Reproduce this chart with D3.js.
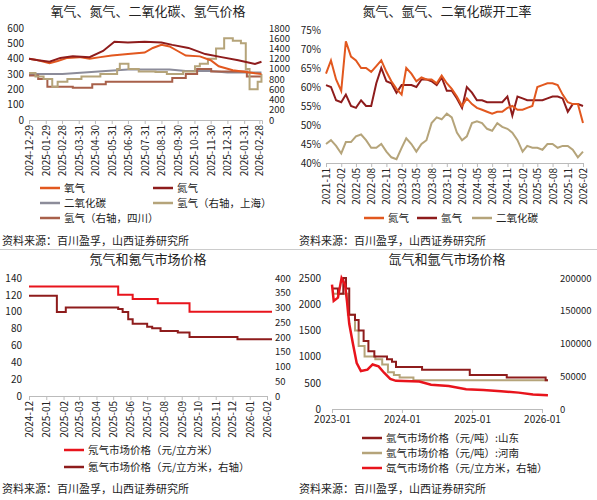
<!DOCTYPE html>
<html>
<head>
<meta charset="utf-8">
<script src="https://cdn.jsdelivr.net/npm/d3@7"></script>
<style>
body{margin:0;background:#fff;}
svg text{font-family:"Noto Sans CJK SC","DejaVu Sans",sans-serif;fill:#222;}
</style>
</head>
<body>
<div id="chart"></div>
<script>
// ---- panel 1 : 氧气、氮气、二氧化碳、氢气价格 ----
const p1Ticks = ["2024-12-29","2025-01-29","2025-02-28","2025-03-31","2025-04-30","2025-05-31","2025-06-30","2025-07-31","2025-08-31","2025-09-30","2025-10-31","2025-11-30","2025-12-31","2026-01-31","2026-02-28"];
const oxygen = [["2024-12-29",400],["2025-01-15",390],["2025-02-05",370],["2025-02-20",385],["2025-03-10",405],["2025-04-01",410],["2025-04-20",400],["2025-05-10",410],["2025-05-31",420],["2025-06-30",430],["2025-07-31",440],["2025-08-15",470],["2025-08-31",490],["2025-09-15",480],["2025-09-30",450],["2025-10-15",420],["2025-11-10",415],["2025-11-30",390],["2025-12-15",350],["2026-01-10",325],["2026-01-31",315],["2026-02-20",305],["2026-03-04",300]];
const nitrogen = [["2024-12-29",400],["2025-01-15",390],["2025-02-05",380],["2025-02-25",405],["2025-03-20",415],["2025-04-20",410],["2025-05-15",450],["2025-06-05",510],["2025-06-30",505],["2025-07-31",510],["2025-08-31",505],["2025-09-20",490],["2025-10-20",470],["2025-11-20",430],["2025-12-20",410],["2026-01-20",390],["2026-02-20",365],["2026-03-04",380]];
const co2 = [["2024-12-29",300],["2025-03-01",300],["2025-04-10",310],["2025-05-20",320],["2025-06-30",330],["2025-09-15",330],["2025-10-15",320],["2025-11-30",320],["2025-12-31",310],["2026-03-04",310]];
const h2Shanghai = [["2024-12-29",920],["2025-01-10",850],["2025-01-25",800],["2025-02-10",650],["2025-02-20",750],["2025-03-10",800],["2025-04-05",850],["2025-05-10",900],["2025-06-10",1000],["2025-06-15",1100],["2025-07-01",1000],["2025-07-20",950],["2025-08-20",940],["2025-09-10",900],["2025-10-10",950],["2025-11-01",1050],["2025-11-10",1100],["2025-11-25",1200],["2025-12-10",1400],["2025-12-25",1600],["2026-01-10",1550],["2026-01-25",1500],["2026-02-03",1000],["2026-02-10",600],["2026-02-25",750],["2026-03-04",900]];
const h2Sichuan = [["2024-12-29",870],["2025-01-15",800],["2025-02-01",650],["2025-03-20",630],["2025-04-25",700],["2025-05-20",750],["2025-09-20",820],["2025-10-15",900],["2025-11-05",1000],["2025-12-01",950],["2026-02-05",850],["2026-03-04",850]];
const p1Left = [0,100,200,300,400,500,600];
const p1Right = [0,200,400,600,800,1000,1200,1400,1600,1800];

// ---- panel 2 : 开工率 (monthly 2021-11 .. 2026-02) ----
const p2Ticks = ["2021-11","2022-02","2022-05","2022-08","2022-11","2023-02","2023-05","2023-08","2023-11","2024-02","2024-05","2024-08","2024-11","2025-02","2025-05","2025-08","2025-11","2026-02"];
const rateN2 = [63.5,67, 62,59,72,68,67,65,65,64,65.5,67,64,61.5, 59.5,58,65,63.5,61.5,62.5,62,62,61,63,61,59.5, 57.5,55,57,55.5,54.5,54,53.5,53,53.5,53.5,54.5,55, 54,54,54.5,55,60,60.5,61,61,60.5,58,56,55.5, 55.5,50.5];
const rateAr = [60.5,60, 56.5,56,58,55,54.5,56.5,55,55,61,65,61.5,61, 58.5,60.5,60.5,60.5,60,62,62,61.5,60.5,62.5,59,59, 57,54.5,60,58.5,56.5,56.5,56,56,56,56,57.5,52.5, 57.5,57,56.5,56.5,56.5,56.5,57,57.5,57.5,57,53.5,55.5, 55.5,55];
const rateCO2 = [45,46, 44.5,42.5,45.5,45.5,47,47.5,46,44,44,45,43,41.5, 41,44,46.5,45,43,45,46,50.5,52,51.5,53,52, 48,46,47,50.5,51,50.5,49,48.5,50.5,49.5,49,48, 46,43,44.5,44,44,43.5,45,45,44,44.5,44.5,43.5, 41.5,43];
const p2Left = [40,45,50,55,60,65,70,75];

// ---- panel 3 : 氖气和氪气 ----
const p3Ticks = ["2024-12","2025-01","2025-02","2025-03","2025-04","2025-05","2025-06","2025-07","2025-08","2025-09","2025-10","2025-11","2025-12","2026-01","2026-02"];
const neon = [["2024-12-01",130],["2025-05-10",120],["2025-06-05",115],["2025-07-20",110],["2025-09-15",100],["2026-02-10",100]];
const krypton = [["2024-12-01",340],["2025-01-20",285],["2025-02-05",300],["2025-05-10",295],["2025-05-18",285],["2025-05-28",260],["2025-06-05",245],["2025-07-01",235],["2025-07-10",230],["2025-07-25",220],["2025-08-25",215],["2025-09-15",200],["2025-12-10",192],["2026-02-10",192]];
const p3Left = [0,20,40,60,80,100,120,140];
const p3Right = [0,50,100,150,200,250,300,350,400];

// ---- panel 4 : 氙气和氩气 ----
const p4Ticks = ["2023-01","2024-01","2025-01","2026-01"];
const arShandong = [["2023-01-01",2300],["2023-02-01",2200],["2023-03-01",2500],["2023-03-15",2300],["2023-04-01",1800],["2023-05-01",1700],["2023-05-20",1500],["2023-06-15",1300],["2023-07-10",1100],["2023-08-10",1000],["2023-10-15",950],["2023-11-10",900],["2023-12-01",800],["2024-04-15",750],["2024-12-20",650],["2025-07-01",600],["2026-01-20",550],["2026-02-01",550]];
const arHenan = [["2023-01-01",2200],["2023-03-25",1800],["2023-05-01",1500],["2023-05-20",1200],["2023-06-20",1000],["2023-08-15",950],["2023-09-20",850],["2023-10-20",700],["2023-11-20",650],["2023-12-20",600],["2024-03-01",550],["2026-02-01",550]];
const xenon = [["2023-01-01",190000],["2023-01-10",165000],["2023-02-01",170000],["2023-02-20",200000],["2023-03-10",190000],["2023-03-20",165000],["2023-04-01",130000],["2023-04-20",100000],["2023-05-10",70000],["2023-06-01",58000],["2023-07-05",60000],["2023-08-01",68000],["2023-09-01",65000],["2023-10-01",55000],["2023-11-01",46000],["2023-12-01",43000],["2024-04-01",42000],["2024-06-01",37000],["2024-09-01",35000],["2024-12-01",30000],["2025-03-01",29000],["2025-06-01",27000],["2025-09-01",25000],["2025-11-15",22000],["2026-02-01",21000]];
const p4Left = [0,500,1000,1500,2000,2500];
const p4Right = [0,50000,100000,150000,200000];

const source = "资料来源：百川盈孚，山西证券研究所";
const pd = d3.timeParse("%Y-%m-%d"), pm = d3.timeParse("%Y-%m");

const svg = d3.select("#chart").append("svg").attr("width",597).attr("height",500);

function title(x,y,t){svg.append("text").attr("x",x).attr("y",y).attr("text-anchor","middle").attr("font-size",13).text(t);}
function src(x,y){svg.append("text").attr("x",x).attr("y",y).attr("font-size",11).text(source);}
function yAxisL(scale,ticks,x,fmt){
  const g = svg.append("g").attr("transform","translate("+x+",0)")
    .call(d3.axisLeft(scale).tickValues(ticks).tickSize(0).tickPadding(3).tickFormat(fmt||(d=>d)));
  g.select(".domain").remove(); g.selectAll("text").attr("font-size",10);
}
function yAxisR(scale,ticks,x){
  const g = svg.append("g").attr("transform","translate("+x+",0)")
    .call(d3.axisRight(scale).tickValues(ticks).tickSize(0).tickPadding(3).tickFormat(d=>d));
  g.select(".domain").remove(); g.selectAll("text").attr("font-size",9.5);
}
function xAxisRot(scale,ticks,y){
  const g = svg.append("g").attr("transform","translate(0,"+y+")")
    .call(d3.axisBottom(scale).tickValues(ticks).tickSize(4).tickFormat(d3.timeFormat(ticks[0].getDate()===1?"%Y-%m":"%Y-%m-%d")));
  g.select(".domain").attr("stroke","#bbb"); g.selectAll(".tick line").attr("stroke","#bbb");
  g.selectAll("text").attr("font-size",10).attr("text-anchor","end")
    .attr("transform","rotate(-90)").attr("x",-5).attr("y",0).attr("dy","0.35em");
}
function line(data,x,y,color,w,curve){
  svg.append("path").datum(data).attr("fill","none").attr("stroke",color).attr("stroke-width",w||2)
    .attr("d",d3.line().x(d=>x(d[0])).y(d=>y(d[1])).curve(curve||d3.curveLinear));
}
function legend(x,y,color,t){
  svg.append("line").attr("x1",x).attr("x2",x+20).attr("y1",y).attr("y2",y).attr("stroke",color).attr("stroke-width",2.5);
  svg.append("text").attr("x",x+24).attr("y",y+4).attr("font-size",10.5).text(t);
}
const P = a=>a.map(d=>[pd(d[0]),d[1]]);
const C1="#E2581F", C2="#8E1C1C", C3="#8C8C9A", C4="#B5A47A", C5="#A8604A", RED="#E8141C";

// dividers
svg.append("line").attr("x1",0).attr("x2",597).attr("y1",249.5).attr("y2",249.5).attr("stroke","#ccc");

// panel 1
{
  const x = d3.scaleTime().domain([pd("2024-12-29"),pd("2026-03-05")]).range([29,262]);
  const yl = d3.scaleLinear().domain([0,600]).range([120,28]);
  const yr = d3.scaleLinear().domain([0,1800]).range([120,28]);
  title(148,16,"氧气、氮气、二氧化碳、氢气价格");
  yAxisL(yl,p1Left,27); yAxisR(yr,p1Right,266);
  xAxisRot(x,p1Ticks.map(pd),120);
  line(P(co2),x,yl,C3); line(P(h2Sichuan),x,yr,C5,2,d3.curveStepAfter);
  line(P(h2Shanghai),x,yr,C4,2,d3.curveStepAfter);
  line(P(oxygen),x,yl,C1); line(P(nitrogen),x,yl,C2);
  legend(40,188,C1,"氧气"); legend(153,188,C2,"氮气");
  legend(40,203,C3,"二氧化碳"); legend(153,203,C4,"氢气（右轴，上海）");
  legend(40,218,C5,"氢气（右轴，四川）");
  src(2,245);
}
// panel 2
{
  const months = d3.timeMonth.range(pm("2021-11"),pm("2026-03"));
  const x = d3.scaleTime().domain([pm("2021-11"),pm("2026-02")]).range([326,583]);
  const y = d3.scaleLinear().domain([40,75]).range([163,30]);
  title(447,16,"氮气、氩气、二氧化碳开工率");
  yAxisL(y,p2Left,324,d=>d+"%");
  xAxisRot(x,p2Ticks.map(pm),163);
  const z = a=>a.map((v,i)=>[months[i],v]);
  line(z(rateCO2),x,y,C4); line(z(rateAr),x,y,C2); line(z(rateN2),x,y,C1);
  legend(364,218,C1,"氮气"); legend(417,218,C2,"氩气"); legend(472,218,C4,"二氧化碳");
  src(299,245);
}
// panel 3
{
  const x = d3.scaleTime().domain([pd("2024-12-01"),pd("2026-02-01")]).range([29,267]);
  const yl = d3.scaleLinear().domain([0,140]).range([396,278]);
  const yr = d3.scaleLinear().domain([0,400]).range([396,278]);
  title(148,264,"氖气和氪气市场价格");
  yAxisL(yl,p3Left,25); yAxisR(yr,p3Right,272);
  xAxisRot(x,p3Ticks.map(pm),396);
  line(P(neon),x,yl,RED,2,d3.curveStepAfter);
  line(P(krypton),x,yr,C2,2,d3.curveStepAfter);
  legend(64,450,RED,"氖气市场价格（元/立方米）");
  legend(64,467,C2,"氪气市场价格（元/立方米，右轴）");
  src(2,493);
}
// panel 4
{
  const x = d3.scaleTime().domain([pm("2023-01"),pm("2026-01")]).range([332,542]);
  const yl = d3.scaleLinear().domain([0,2500]).range([409,278]);
  const yr = d3.scaleLinear().domain([0,200000]).range([409,278]);
  title(447,264,"氙气和氩气市场价格");
  yAxisL(yl,p4Left,324); yAxisR(yr,p4Right,557);
  const g = svg.append("g").attr("transform","translate(0,409)")
    .call(d3.axisBottom(x).tickValues(p4Ticks.map(pm)).tickSize(4).tickFormat(d3.timeFormat("%Y-%m")));
  g.select(".domain").attr("stroke","#bbb"); g.selectAll(".tick line").attr("stroke","#bbb");
  g.selectAll("text").attr("font-size",10);
  line(P(arHenan),x,yl,C4,2,d3.curveStepAfter);
  line(P(arShandong),x,yl,C2,2,d3.curveStepAfter);
  line(P(xenon),x,yr,RED,2.5);
  legend(362,438,C2,"氩气市场价格（元/吨）:山东");
  legend(362,453,C4,"氩气市场价格（元/吨）:河南");
  legend(362,468,RED,"氙气市场价格（元/立方米，右轴）");
  src(299,493);
}
</script>
</body>
</html>
